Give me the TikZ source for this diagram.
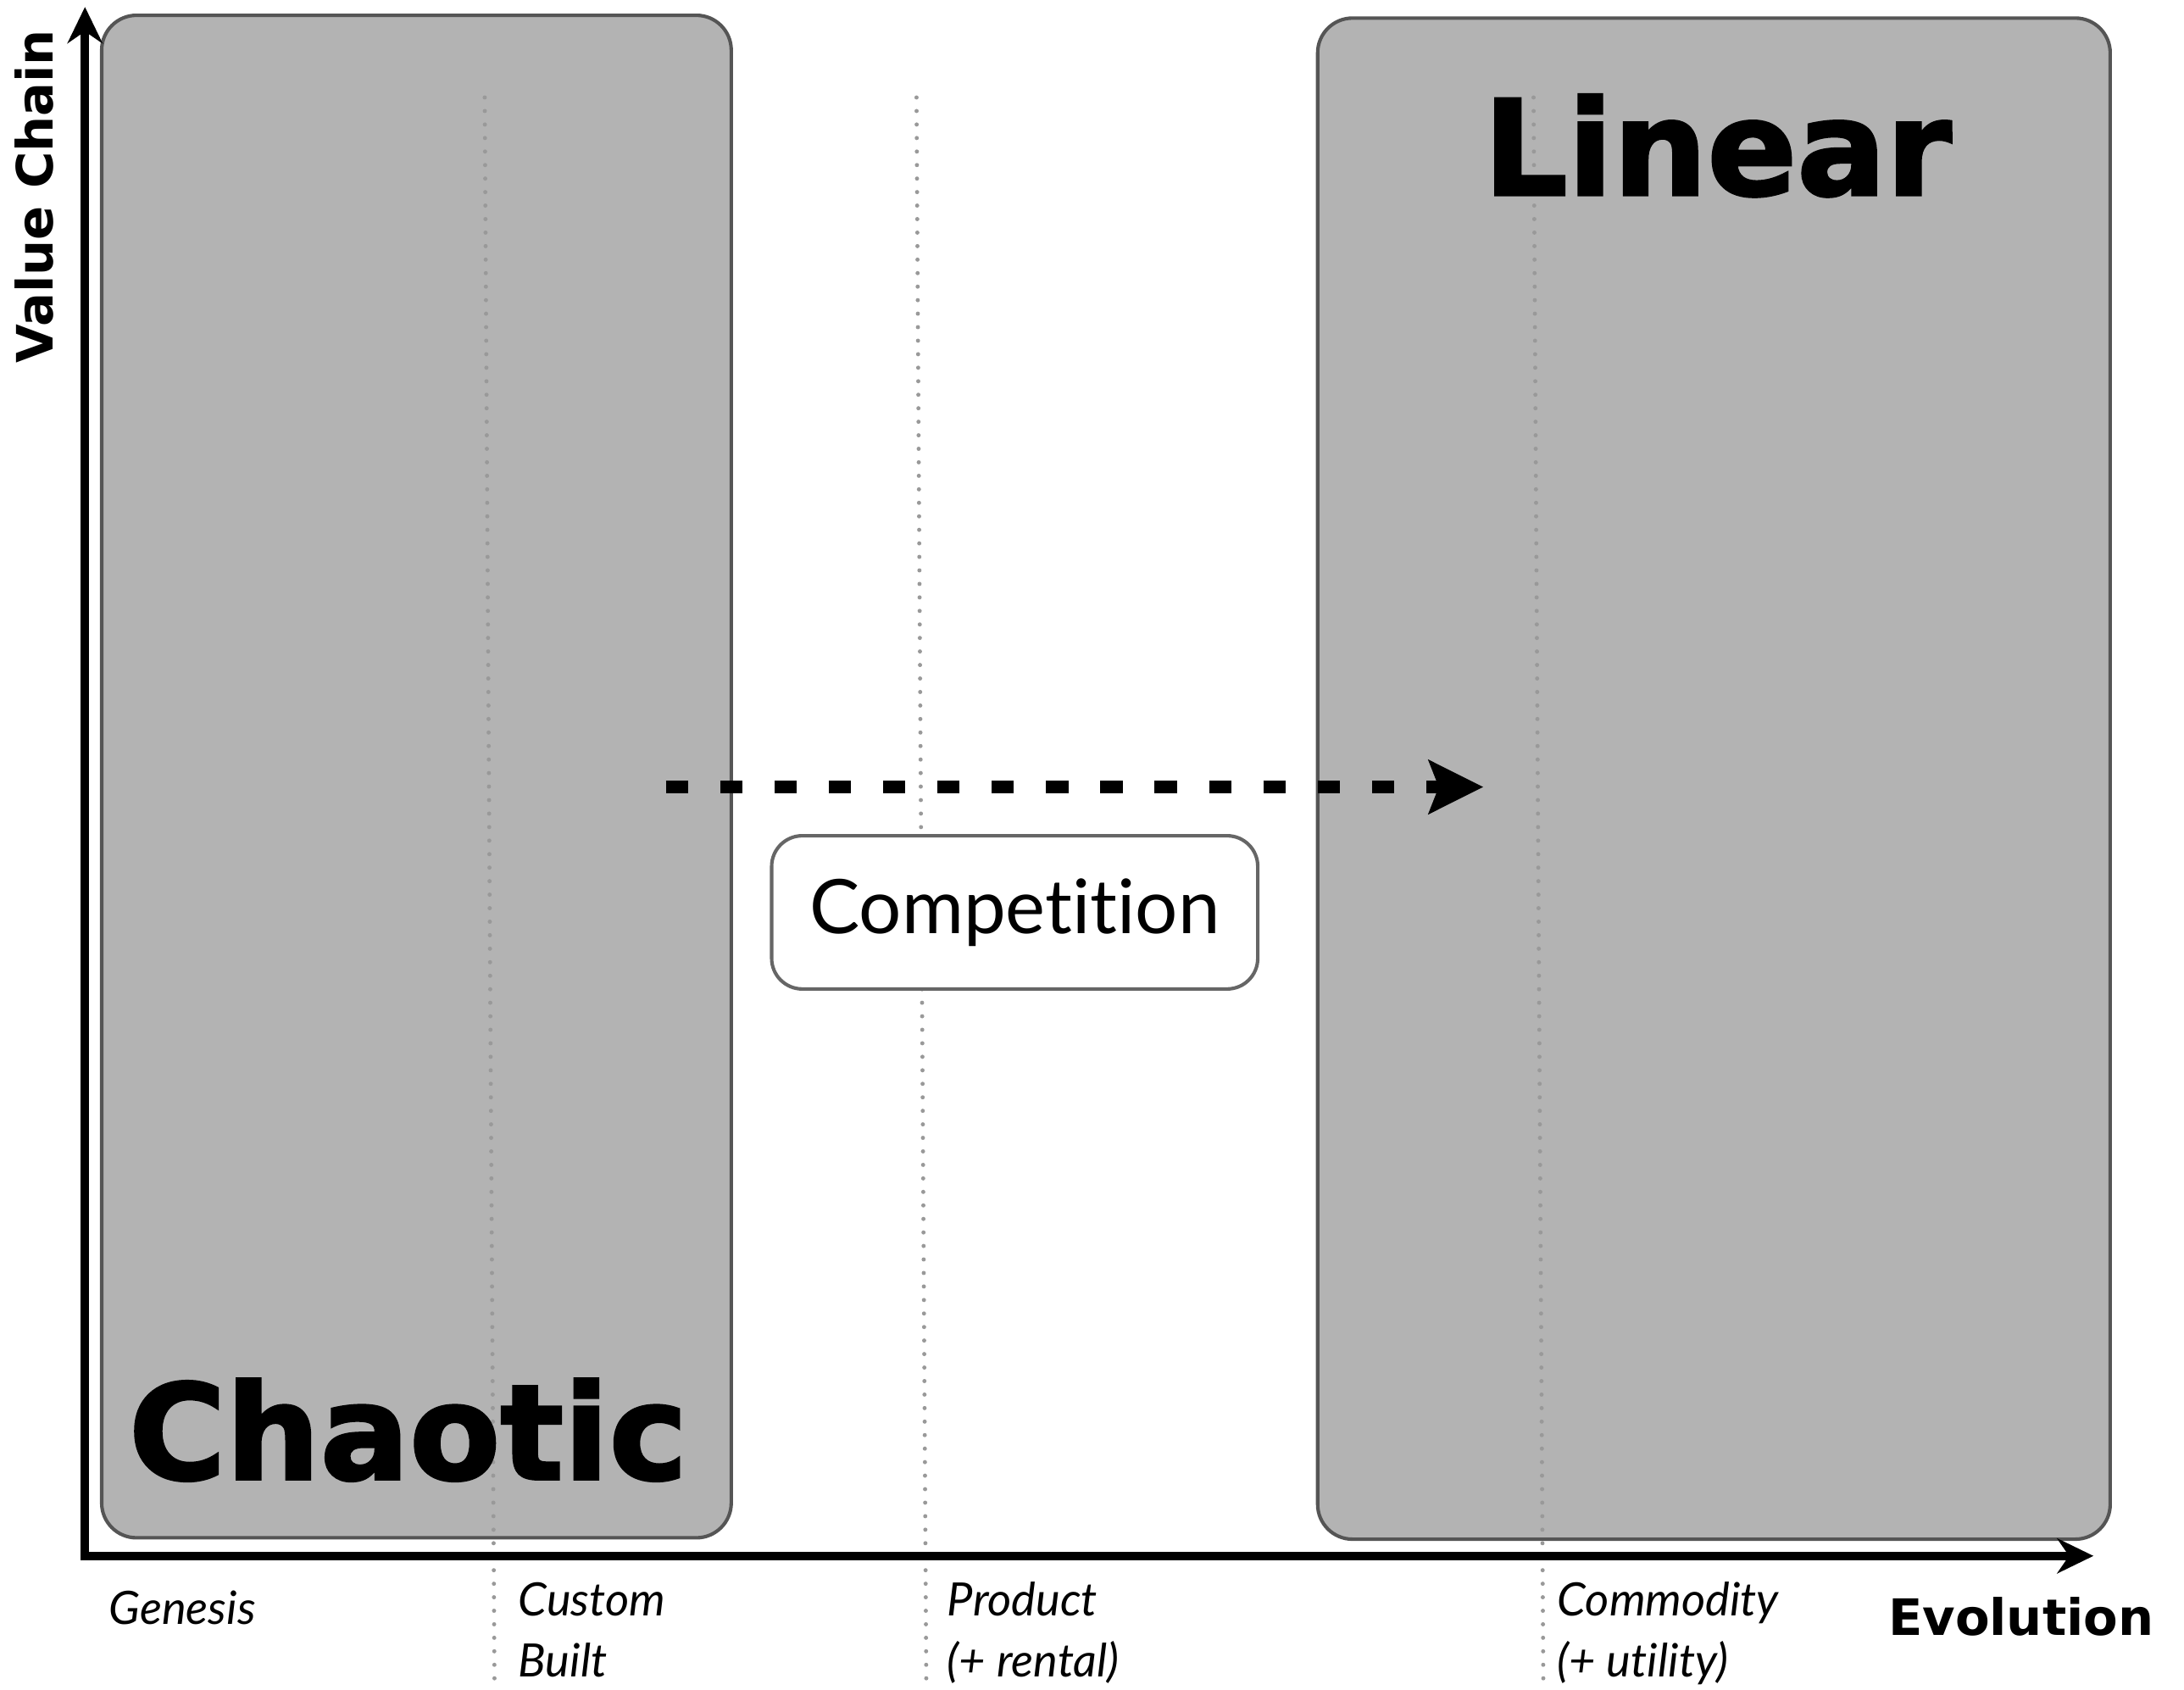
\documentclass[tikz,border=0pt]{standalone}
\usepackage{fontspec}
\setmainfont[Ligatures=NoCommon]{Lato}
\newfontfamily\headfont{DejaVu Sans}
\usepackage{xcolor}
\usetikzlibrary{arrows.meta,positioning}

\definecolor{zonefill}{HTML}{B3B3B3}
\definecolor{zoneline}{HTML}{555555}
\definecolor{boxline}{HTML}{666666}
\definecolor{dotgray}{HTML}{999999}

\begin{document}
\begin{tikzpicture}[
    x=1pt, y=1pt,
    zone/.style={rectangle, draw=zoneline, fill=zonefill, line width=2.5pt, rounded corners=25pt, inner sep=0pt},
    stageline/.style={draw=dotgray, line width=3pt, line cap=round, dash pattern=on 0pt off 9.7pt},
    axis/.style={line width=6pt, {Stealth[length=26pt,width=25pt]}-{Stealth[length=26pt,width=25pt]}},
    flow/.style={line width=9.4pt, dash pattern=on 16pt off 23pt, -{Stealth[length=39pt,width=38pt,inset=7pt]}},
    tag/.style={rectangle, draw=boxline, fill=white, line width=2.5pt, rounded corners=22pt, minimum width=349pt, minimum height=110pt, font=\fontsize{54}{60}\selectfont},
    bigword/.style={inner sep=0pt, font=\headfont\bfseries\fontsize{95}{100}\selectfont\addfontfeatures{FakeBold=2}},
    axislabel/.style={inner sep=0pt, font=\headfont\bfseries\fontsize{36}{40}\selectfont},
    stagelabel/.style={inner sep=0pt, align=left, font=\fontsize{33}{44}\selectfont\itshape},
]
    \useasboundingbox (0,0) rectangle (1568,1213);

    % zones
    \node[zone, minimum width=452pt, minimum height=1093pt] (chaos) at (299,655.5) {};
    \node[zone, minimum width=569pt, minimum height=1092pt] (order) at (1230.5,654) {};

    % evolution stages
    \foreach \x in {348,658,1101}
        \draw[stageline] (\x,1143) -- (\x+7,8);

    % axes
    \coordinate (origin) at (61,96);
    \coordinate (ytop) at (61,1208);
    \coordinate (xend) at (1503,96);
    \draw[axis] (ytop) -- (origin) -- (xend);

    \node[axislabel, rotate=90, anchor=base] (valuechain) at (38,1072) {Value Chain};
    \node[axislabel, anchor=base] (evolution) at (1451,39) {Evolution};

    % stage labels
    \node[stagelabel, anchor=base west] (genesis) at (78,47) {Genesis};
    \node[stagelabel, anchor=base west] (custom) at (372,9) {Custom\\Built};
    \node[stagelabel, anchor=base west] (product) at (680,9) {Product\\(+ rental)};
    \node[stagelabel, anchor=base west] (commodity) at (1118,9) {Commodity\\(+ utility)};

    % zone titles
    \node[bigword, anchor=base] (chaotic) at (293,151) {Chaotic};
    \node[bigword, anchor=base] (linear) at (1233,1073) {Linear};

    % competition
    \node[tag] (compete) at (728.5,558) {Competition};
    \coordinate (flowstart) at (478,648);
    \coordinate (flowend) at (1065,648);
    \draw[flow] (flowstart) -- (flowend);

\end{tikzpicture}
\end{document}
